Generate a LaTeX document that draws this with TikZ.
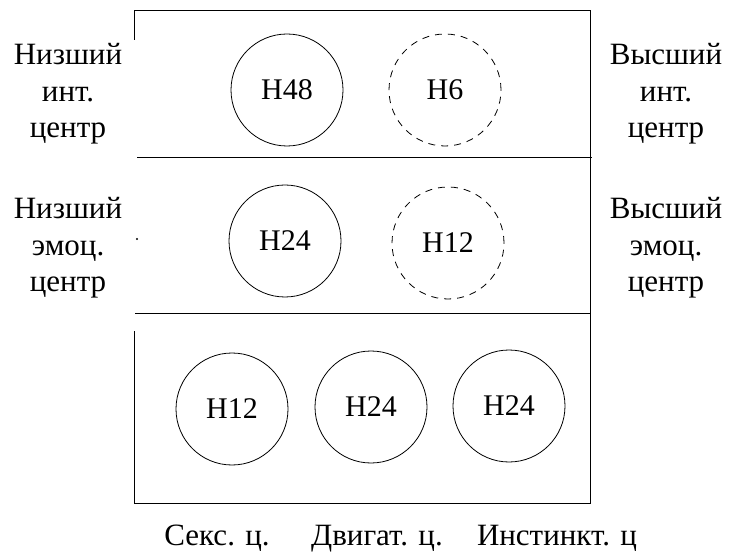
\documentclass[tikz,border=0pt]{standalone}
\usepackage{fontspec}
\setmainfont{Liberation Serif}
\usepackage{tikz}
\usetikzlibrary{positioning}

\begin{document}
\begin{tikzpicture}[x=1pt, y=-1pt,
                    line width=0.8pt,
                    ring/.style={circle, draw, minimum size=112pt, inner sep=0pt},
                    dashring/.style={ring, dash pattern=on 7pt off 6pt},
                    lbl/.style={align=center, font=\fontsize{31}{36.5}\selectfont},
                    ctr/.style={font=\fontsize{30}{36}\selectfont},
                    foot/.style={font=\fontsize{31}{36}\selectfont, anchor=base}]
    \useasboundingbox (0,0) rectangle (731,553);

    % frame
    \draw (134,40) -- (134,10) -- (590,10) -- (590,503) -- (134,503) -- (134,331);
    \draw (137,157) -- (592,157);
    \draw (135,313) -- (590,313);
    \fill (137,239) circle (1.2pt);

    % centres
    \node[ring, ctr]     (n48)  at (287,90)  {H48};
    \node[dashring, ctr] (n6)   at (445,90)  {H6};
    \node[ring, ctr]     (n24)  at (285,241) {H24};
    \node[dashring, ctr] (n12)  at (448,243) {H12};
    \node[ring, ctr]     (s12)  at (232,409) {H12};
    \node[ring, ctr]     (m24)  at (371,407) {H24};
    \node[ring, ctr]     (i24)  at (509,406) {H24};

    % side labels
    \node[lbl] (lowint) at (68,94)  {Низший\\инт.\\центр};
    \node[lbl] (lowemo) at (68,248) {Низший\\эмоц.\\центр};
    \node[lbl] (hiint)  at (666,94) {Высший\\инт.\\центр};
    \node[lbl] (hiemo)  at (666,248) {Высший\\эмоц.\\центр};

    \node[foot] (sexc)  at (217,545) {Секс. ц.};
    \node[foot] (movc)  at (377,545) {Двигат. ц.};
    \node[foot] (instc) at (557,545) {Инстинкт. ц};
\end{tikzpicture}
\end{document}
